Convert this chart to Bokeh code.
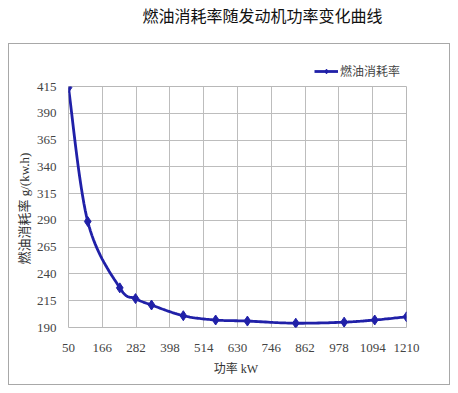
from bokeh.plotting import figure
from bokeh.layouts import column
from bokeh.models import FixedTicker, Range1d, Label, Legend, LegendItem
from bokeh.embed import file_html
from bokeh.resources import INLINE
import numpy as np

# Data
power_kw = [50, 116, 226, 280, 335, 444, 555, 664, 830, 996, 1101, 1210]
bsfc = [414, 289, 227, 217, 211, 201, 197, 196, 194, 195, 197, 200]
x_ticks = [50, 166, 282, 398, 514, 630, 746, 862, 978, 1094, 1210]
y_ticks = [190, 215, 240, 265, 290, 315, 340, 365, 390, 415]

title_text = "燃油消耗率随发动机功率变化曲线"
series_name = "燃油消耗率"
x_label = "功率  kW"
y_label = "燃油消耗率  g/(kw.h)"

color = "#2020a8"

def bare(fig):
    fig.outline_line_color = None
    fig.grid.visible = False
    fig.background_fill_color = "white"
    fig.border_fill_color = "white"

# ---- title strip ----
TW, TH = 458, 43
tfig = figure(width=TW, height=TH, output_backend="svg", toolbar_location=None,
              x_range=Range1d(0, TW), y_range=Range1d(0, TH), min_border=0,
              x_axis_type=None, y_axis_type=None)
bare(tfig)
tfig.add_layout(Label(x=262, y=TH - 14, text=title_text, text_align="center",
                      text_baseline="middle", text_font_size="16px",
                      text_font="Noto Sans CJK SC", text_color="#111111"))

# ---- main chart geometry ----
W = 440
LH = 35
H = 305
ML, MR, MT, MB = 59, 43, 7, 57
FW, FH = W - ML - MR, H - MT - MB

# ---- legend strip (inside the bordered box; its frame is aligned with the chart's) ----
# the series is drawn here too, but entirely outside this strip's visible range,
# so only its legend entry shows
lfig = figure(width=W, height=LH, output_backend="svg", toolbar_location=None,
              x_range=Range1d(0, 1), y_range=Range1d(0, 1), min_border=0,
              x_axis_type=None, y_axis_type=None)
bare(lfig)
lr_line = lfig.line(power_kw, bsfc, line_color=color, line_width=2.8)
lr_pts = lfig.scatter(power_kw, bsfc, marker="diamond", size=9,
                      fill_color=color, line_color=color)
legend = Legend(items=[LegendItem(label=series_name, renderers=[lr_line, lr_pts])],
                location=(246, 0), padding=0, margin=0, spacing=0,
                glyph_width=24, glyph_height=12, label_standoff=2,
                label_text_font="Noto Sans CJK SC", label_text_font_size="12px",
                label_text_color="#444444", border_line_color=None, background_fill_alpha=0)
lfig.add_layout(legend)

# ---- main chart ----
p = figure(width=W, height=H, output_backend="svg", toolbar_location=None,
           x_range=Range1d(x_ticks[0], x_ticks[-1]), y_range=Range1d(y_ticks[0], y_ticks[-1]),
           min_border_left=ML, min_border_right=MR, min_border_top=MT, min_border_bottom=MB)
p.background_fill_color = "white"
p.border_fill_color = "white"
p.outline_line_color = "#b8b8b8"

# smooth curve (Bezier / Catmull-Rom in screen-proportional space)
xs = (np.array(power_kw) - x_ticks[0]) / (x_ticks[-1] - x_ticks[0]) * FW
ys = (np.array(bsfc) - y_ticks[0]) / (y_ticks[-1] - y_ticks[0]) * FH
P = np.stack([xs, ys], axis=1)
pts = []
n = len(P)
for i in range(n - 1):
    p0 = P[i - 1] if i > 0 else P[i]
    p1, p2 = P[i], P[i + 1]
    p3 = P[i + 2] if i + 2 < n else P[i + 1]
    c1 = p1 + (p2 - p0) / 6
    c2 = p2 - (p3 - p1) / 6
    for t in np.linspace(0, 1, 20, endpoint=(i == n - 2)):
        b = ((1 - t) ** 3) * p1 + 3 * ((1 - t) ** 2) * t * c1 + 3 * (1 - t) * t * t * c2 + t ** 3 * p2
        pts.append(b)
pts = np.array(pts)
cx = pts[:, 0] / FW * (x_ticks[-1] - x_ticks[0]) + x_ticks[0]
cy = pts[:, 1] / FH * (y_ticks[-1] - y_ticks[0]) + y_ticks[0]

p.line(cx, cy, line_color=color, line_width=2.8)
p.scatter(power_kw, bsfc, marker="diamond", size=10, fill_color=color, line_color=color)

p.xaxis.ticker = FixedTicker(ticks=x_ticks)
p.yaxis.ticker = FixedTicker(ticks=y_ticks)
for ax in (p.xaxis[0], p.yaxis[0]):
    ax.major_tick_line_color = None
    ax.minor_tick_line_color = None
    ax.axis_line_color = None
    ax.major_label_text_font = "Liberation Serif"
    ax.major_label_text_font_size = "13px"
    ax.major_label_text_color = "#444444"
    ax.axis_label_text_font = "'Liberation Serif', 'Noto Sans CJK SC'"
    ax.axis_label_text_font_style = "normal"
    ax.axis_label_text_color = "#333333"
p.xaxis.major_label_standoff = 10
p.yaxis.major_label_standoff = 6
p.xaxis.axis_label = x_label
p.yaxis.axis_label = y_label
p.xaxis.axis_label_text_font_size = "12px"
p.yaxis.axis_label_text_font_size = "13px"
p.xaxis.axis_label_standoff = 7
p.yaxis.axis_label_standoff = 2

p.xgrid.grid_line_color = "#bdbdbd"
p.ygrid.grid_line_color = "#bdbdbd"

box = column(lfig, p, spacing=0)
box.margin = (0, 0, 0, 8)
box.styles = {"border": "1px solid #a8a8a8"}

layout = column(tfig, box, spacing=0)
open("out.html", "w").write(file_html(layout, INLINE))
